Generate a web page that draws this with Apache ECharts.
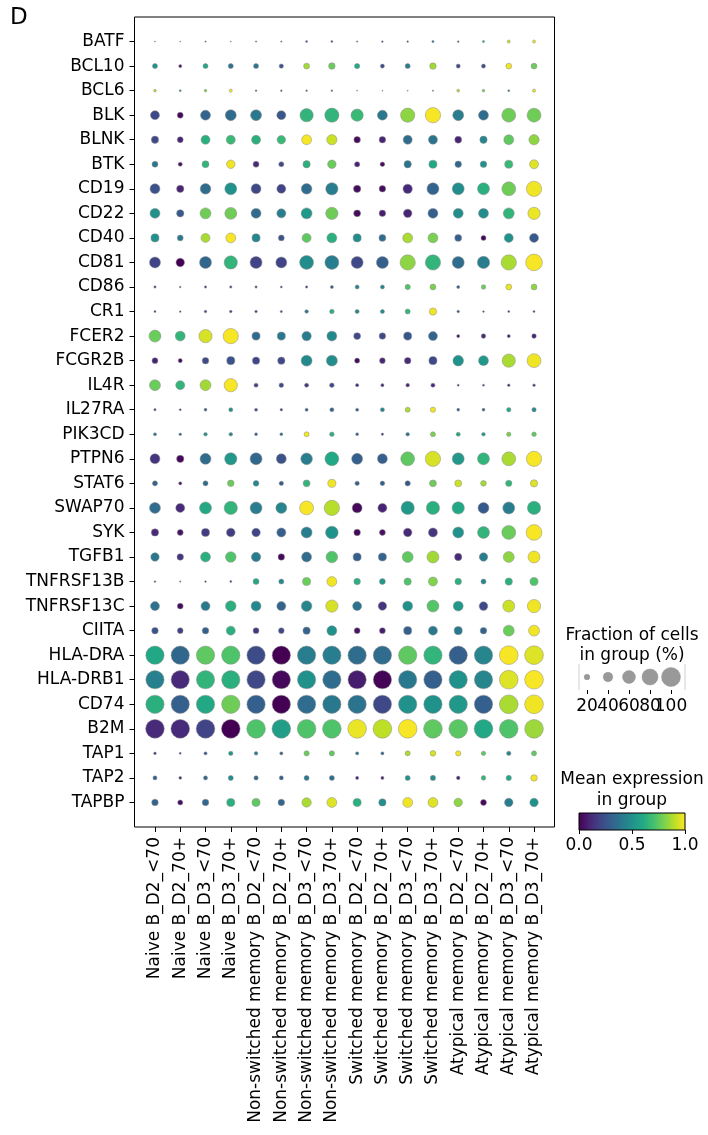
<!DOCTYPE html>
<html>
<head>
<meta charset="utf-8">
<script src="https://cdn.jsdelivr.net/npm/echarts@6/dist/echarts.min.js"></script>
<style>html,body{margin:0;padding:0;background:#fff;}#chart{width:708px;height:1135px;}</style>
</head>
<body>
<div id="chart"></div>
<script>
const genes = ["BATF","BCL10","BCL6","BLK","BLNK","BTK","CD19","CD22","CD40","CD81","CD86","CR1","FCER2","FCGR2B","IL4R","IL27RA","PIK3CD","PTPN6","STAT6","SWAP70","SYK","TGFB1","TNFRSF13B","TNFRSF13C","CIITA","HLA-DRA","HLA-DRB1","CD74","B2M","TAP1","TAP2","TAPBP"];

const groups = ["Naive B_D2_<70","Naive B_D2_70+","Naive B_D3_<70","Naive B_D3_70+","Non-switched memory B_D2_<70","Non-switched memory B_D2_70+","Non-switched memory B_D3_<70","Non-switched memory B_D3_70+","Switched memory B_D2_<70","Switched memory B_D2_70+","Switched memory B_D3_<70","Switched memory B_D3_70+","Atypical memory B_D2_<70","Atypical memory B_D2_70+","Atypical memory B_D3_<70","Atypical memory B_D3_70+"];

// Fraction of cells in group (%), one row per gene
const fractions = [
  [2,2,3,2,3,3,5,5,3,4,4,6,4,6,9,9],
  [17,9,17,17,17,14,21,24,18,13,17,24,13,13,21,21],
  [7,5,7,9,4,4,4,4,2,2,2,3,8,7,5,9],
  [37,21,42,48,48,37,62,68,56,42,68,75,48,42,66,66],
  [28,21,37,37,37,34,42,44,24,24,37,37,26,28,42,44],
  [21,13,26,34,21,17,28,34,18,15,28,32,24,24,32,37],
  [42,28,46,54,42,37,46,56,28,24,39,54,54,54,66,75],
  [42,28,48,54,42,37,48,56,26,24,34,42,42,42,48,56],
  [32,21,37,42,32,21,37,42,32,26,42,42,26,17,37,37],
  [48,34,54,62,54,48,66,66,54,54,75,75,54,56,75,84],
  [6,4,6,6,6,5,6,9,13,13,18,21,9,15,21,21],
  [5,4,7,7,7,6,11,15,13,13,17,28,7,4,5,5],
  [54,42,62,75,32,32,39,42,26,24,32,37,9,15,9,15],
  [21,13,24,32,28,28,48,48,17,20,24,32,46,42,62,66],
  [48,37,48,62,13,15,13,15,9,9,11,13,5,5,7,7],
  [6,5,8,13,9,7,9,13,9,13,17,18,8,8,14,14],
  [9,7,11,11,8,8,17,15,8,6,11,17,13,11,14,15],
  [42,28,48,56,54,42,52,66,48,42,66,75,54,54,66,75],
  [17,9,17,24,20,14,26,32,14,15,18,26,26,20,23,28],
  [48,37,54,62,54,48,66,75,42,37,62,62,56,48,54,62],
  [28,21,32,35,34,37,48,58,24,21,34,37,48,54,66,78],
  [34,24,42,46,39,24,42,52,32,32,48,54,28,34,48,54],
  [4,3,4,5,21,17,32,42,24,21,28,37,24,17,28,32],
  [37,21,37,46,42,37,46,56,37,34,42,54,42,35,54,62],
  [24,20,24,37,21,20,28,42,21,21,32,37,32,24,48,48],
  [95,95,95,95,95,95,95,95,95,95,95,95,95,95,98,98],
  [95,95,95,95,95,95,95,95,95,95,95,95,95,95,98,98],
  [95,95,95,95,95,95,95,95,95,95,95,95,95,95,98,98],
  [98,98,98,98,98,98,98,98,98,98,98,98,98,98,98,98],
  [7,5,9,14,11,9,18,18,9,9,17,20,18,14,14,17],
  [13,8,13,17,14,13,17,17,9,9,17,18,11,15,18,24],
  [24,17,24,32,32,24,39,42,32,28,42,42,34,21,34,34]
];

// Mean expression in group (0..1), one row per gene
const means = [
  [0.3,0.3,0.2,0.3,0.25,0.25,0.25,0.25,0.2,0.2,0.25,0.4,0.2,0.6,0.93,0.97],
  [0.5,0.05,0.6,0.38,0.38,0.25,0.86,0.77,0.6,0.22,0.42,0.86,0.22,0.22,0.98,0.77],
  [0.89,0.45,0.8,0.98,0.35,0.3,0.35,0.3,0.3,0.3,0.3,0.25,0.89,0.78,0.4,0.97],
  [0.22,0.02,0.32,0.35,0.4,0.27,0.65,0.65,0.67,0.4,0.83,0.99,0.42,0.35,0.78,0.78],
  [0.22,0.1,0.63,0.67,0.63,0.67,0.99,0.92,0.03,0.1,0.35,0.38,0.1,0.45,0.75,0.83],
  [0.38,0.05,0.65,0.98,0.12,0.22,0.63,0.77,0.1,0.03,0.38,0.6,0.33,0.5,0.67,0.95],
  [0.25,0.1,0.35,0.5,0.22,0.2,0.35,0.42,0.03,0.03,0.12,0.32,0.48,0.63,0.78,0.98],
  [0.5,0.28,0.78,0.78,0.35,0.42,0.53,0.78,0.03,0.08,0.1,0.3,0.48,0.48,0.65,0.97],
  [0.5,0.4,0.87,0.99,0.45,0.25,0.75,0.63,0.48,0.35,0.87,0.8,0.3,0.02,0.5,0.28],
  [0.2,0.0,0.33,0.65,0.2,0.2,0.48,0.42,0.22,0.3,0.83,0.65,0.35,0.42,0.87,0.99],
  [0.12,0.2,0.2,0.15,0.2,0.2,0.15,0.25,0.45,0.45,0.72,0.8,0.3,0.77,0.97,0.83],
  [0.15,0.15,0.22,0.2,0.22,0.25,0.4,0.63,0.45,0.48,0.65,0.98,0.3,0.15,0.15,0.15],
  [0.77,0.65,0.94,0.99,0.35,0.4,0.42,0.47,0.22,0.22,0.27,0.32,0.05,0.12,0.08,0.1],
  [0.1,0.03,0.22,0.25,0.2,0.22,0.47,0.48,0.03,0.1,0.12,0.22,0.5,0.53,0.87,0.98],
  [0.77,0.65,0.86,0.99,0.2,0.22,0.15,0.2,0.12,0.12,0.12,0.12,0.15,0.15,0.12,0.12],
  [0.15,0.15,0.25,0.5,0.25,0.2,0.3,0.32,0.3,0.45,0.87,0.98,0.3,0.28,0.6,0.48],
  [0.4,0.32,0.5,0.45,0.3,0.38,0.98,0.63,0.3,0.1,0.38,0.8,0.6,0.53,0.8,0.75],
  [0.15,0.02,0.35,0.53,0.33,0.25,0.42,0.6,0.3,0.3,0.75,0.94,0.53,0.65,0.87,0.99],
  [0.32,0.05,0.35,0.77,0.45,0.28,0.65,0.98,0.3,0.3,0.27,0.78,0.92,0.86,0.65,0.95],
  [0.35,0.12,0.6,0.65,0.42,0.45,0.99,0.89,0.02,0.1,0.53,0.63,0.6,0.28,0.42,0.63],
  [0.12,0.05,0.18,0.18,0.2,0.3,0.42,0.5,0.02,0.04,0.12,0.15,0.5,0.65,0.77,0.99],
  [0.4,0.15,0.63,0.72,0.42,0.02,0.35,0.72,0.3,0.32,0.75,0.86,0.12,0.42,0.83,0.98],
  [0.15,0.2,0.15,0.12,0.6,0.47,0.77,0.98,0.63,0.53,0.72,0.81,0.63,0.45,0.63,0.72],
  [0.38,0.03,0.4,0.63,0.47,0.32,0.45,0.94,0.38,0.15,0.5,0.73,0.53,0.22,0.92,0.98],
  [0.25,0.18,0.3,0.63,0.15,0.22,0.32,0.5,0.05,0.08,0.3,0.4,0.4,0.32,0.77,0.98],
  [0.6,0.33,0.75,0.72,0.23,0.0,0.42,0.42,0.35,0.35,0.75,0.65,0.3,0.45,0.99,0.95],
  [0.43,0.12,0.65,0.63,0.22,0.02,0.5,0.35,0.08,0.01,0.4,0.3,0.5,0.45,0.95,0.99],
  [0.63,0.3,0.6,0.78,0.3,0.0,0.35,0.4,0.38,0.22,0.5,0.5,0.53,0.3,0.87,0.98],
  [0.12,0.12,0.2,0.0,0.72,0.55,0.72,0.72,0.97,0.9,0.99,0.75,0.74,0.6,0.72,0.85],
  [0.15,0.15,0.3,0.53,0.42,0.32,0.77,0.75,0.35,0.32,0.87,0.94,0.98,0.75,0.45,0.75],
  [0.3,0.12,0.33,0.48,0.33,0.3,0.4,0.35,0.1,0.1,0.5,0.48,0.1,0.65,0.6,0.98],
  [0.32,0.04,0.33,0.63,0.75,0.32,0.87,0.95,0.63,0.48,0.98,0.95,0.83,0.02,0.42,0.5]
];

const sizeLegendValues = [20, 40, 60, 80, 100];
const sizeLegendLabels = ['20', '40', '60', '80', '100'];
const colorbarTicks = [0, 0.5, 1];

const viridis = ['#440154','#482475','#414487','#355f8d','#2a788e','#21918c','#22a884','#44bf70','#7ad151','#bddf26','#fde725'];
const FONT = 'DejaVu Sans';
const MAX_D = 19;
const dotSize = f => MAX_D * Math.pow(f / 100, 0.75);

const dots = [];
genes.forEach((g, r) => {
  groups.forEach((grp, c) => {
    dots.push([c, r, fractions[r][c], means[r][c]]);
  });
});
const idx = n => Array.from({length: n}, (_, i) => i);
const noLine = {show: false, onZero: false};

const chart = echarts.init(document.getElementById('chart'), null, {renderer: 'canvas'});
const option = {
  backgroundColor: '#fff',
  animation: false,
  textStyle: {fontFamily: FONT},
  grid: [
    {left: 134.5, top: 17, width: 420, height: 810, show: true, borderColor: '#000', borderWidth: 1, backgroundColor: 'transparent'},
    {left: 576.5, top: 664, width: 105, height: 26},
    {left: 579, top: 813, width: 106, height: 17}
  ],
  xAxis: [
    {gridIndex: 0, type: 'value', min: -0.81, max: 15.81,
      axisLine: noLine, splitLine: {show: false},
      axisTick: {show: true, length: 5, lineStyle: {color: '#000'}, customValues: idx(groups.length)},
      axisLabel: {customValues: idx(groups.length), showMinLabel: true, showMaxLabel: true, hideOverlap: false,
        rotate: 90, margin: 10, fontSize: 17, color: '#000', fontFamily: FONT,
        formatter: v => groups[Math.round(v)]}},
    {gridIndex: 1, type: 'category', data: sizeLegendLabels, boundaryGap: true,
      axisLine: noLine, splitLine: {show: false},
      axisTick: {show: true, length: 4, alignWithLabel: true, interval: 0, lineStyle: {color: '#000'}},
      axisLabel: {interval: 0, hideOverlap: false, margin: 8, fontSize: 17, color: '#000', fontFamily: FONT}},
    {gridIndex: 2, type: 'value', min: 0, max: 1,
      axisLine: noLine, splitLine: {show: false},
      axisTick: {show: true, length: 4, lineStyle: {color: '#000'}, customValues: colorbarTicks},
      axisLabel: {customValues: colorbarTicks, showMinLabel: true, showMaxLabel: true, hideOverlap: false,
        margin: 7, fontSize: 17, color: '#000', fontFamily: FONT,
        formatter: v => v.toFixed(1)}}
  ],
  yAxis: [
    {gridIndex: 0, type: 'value', inverse: true, min: -1, max: 32,
      axisLine: noLine, splitLine: {show: false},
      axisTick: {show: true, length: 5, lineStyle: {color: '#000'}, customValues: idx(genes.length)},
      axisLabel: {customValues: idx(genes.length), showMinLabel: true, showMaxLabel: true, hideOverlap: false,
        margin: 10, fontSize: 17, color: '#000', fontFamily: FONT,
        formatter: v => genes[Math.round(v)]}},
    {gridIndex: 1, type: 'value', min: -1, max: 1, show: false, axisLine: noLine},
    {gridIndex: 2, type: 'value', min: 0, max: 1, show: false, axisLine: noLine}
  ],
  visualMap: [{
    show: false, type: 'continuous', seriesIndex: 0, dimension: 3, min: 0, max: 1,
    inRange: {color: viridis}
  }],
  series: [
    {type: 'scatter', xAxisIndex: 0, yAxisIndex: 0, data: dots,
      symbol: 'circle', symbolSize: v => dotSize(v[2]),
      itemStyle: {borderColor: '#8c8c8c', borderWidth: 0.5, opacity: 1}},
    {type: 'scatter', xAxisIndex: 1, yAxisIndex: 1,
      data: sizeLegendValues.map((f, i) => [i, 0, f]),
      symbol: 'circle', symbolSize: v => dotSize(v[2]),
      itemStyle: {color: '#808080', borderColor: '#8c8c8c', borderWidth: 0.5}},
    {type: 'scatter', xAxisIndex: 2, yAxisIndex: 2, data: []}
  ],
  graphic: [
    {type: 'text', left: 10, top: 7, style: {text: 'D', font: '23px "DejaVu Sans"', fill: '#000'}},
    {type: 'text', x: 632, y: 636, style: {text: 'Fraction of cells', font: '17px "DejaVu Sans"', fill: '#000', align: 'center', verticalAlign: 'middle'}},
    {type: 'text', x: 632, y: 656, style: {text: 'in group (%)', font: '17px "DejaVu Sans"', fill: '#000', align: 'center', verticalAlign: 'middle'}},
    {type: 'text', x: 632, y: 780, style: {text: 'Mean expression', font: '17px "DejaVu Sans"', fill: '#000', align: 'center', verticalAlign: 'middle'}},
    {type: 'text', x: 632, y: 801, style: {text: 'in group', font: '17px "DejaVu Sans"', fill: '#000', align: 'center', verticalAlign: 'middle'}},
    {type: 'line', shape: {x1: 579, y1: 664, x2: 579, y2: 690}, style: {stroke: '#d0d0d0', lineWidth: 1}},
    {type: 'line', shape: {x1: 685, y1: 664, x2: 685, y2: 690}, style: {stroke: '#d0d0d0', lineWidth: 1}},
    {type: 'rect', shape: {x: 579, y: 813, width: 106, height: 17},
      style: {fill: new echarts.graphic.LinearGradient(0, 0, 1, 0, viridis.map((c, i) => ({offset: i / (viridis.length - 1), color: c}))),
        stroke: '#000', lineWidth: 1}}
  ]
};
chart.setOption(option);
</script>
</body>
</html>
